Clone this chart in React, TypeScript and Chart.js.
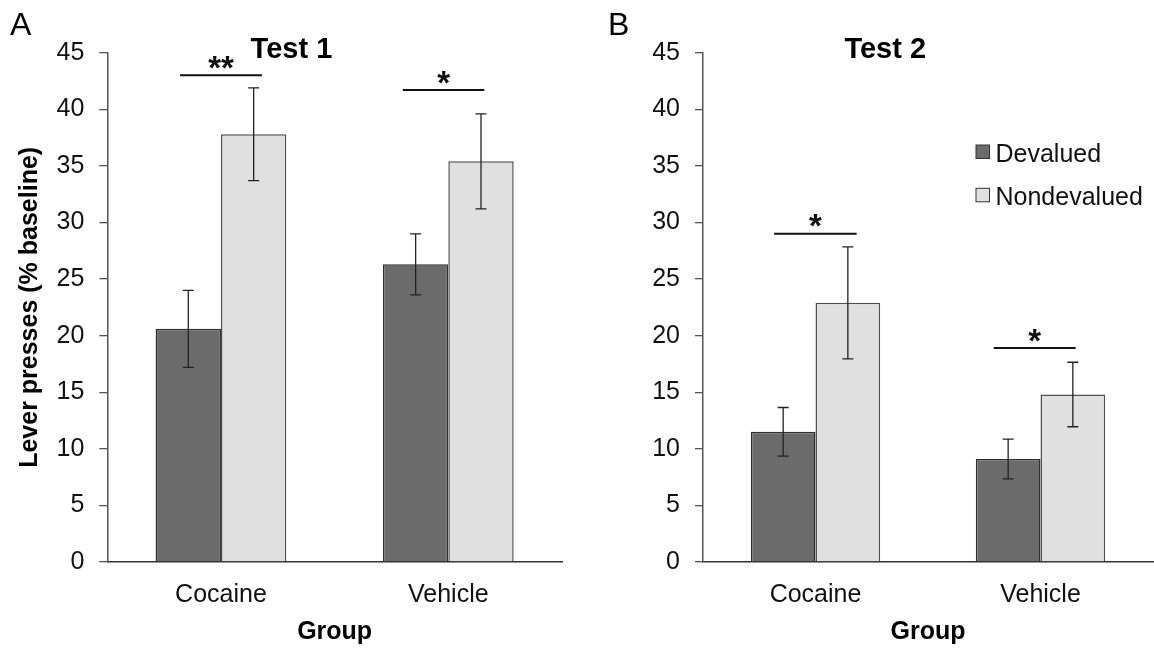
import React, { useEffect, useRef } from 'react';
import { Chart, registerables } from 'chart.js';

Chart.register(...registerables);

const FONT = '"Liberation Sans", Arial, Helvetica, sans-serif';

// ---- data ----
const categories = ['Cocaine', 'Vehicle'];
const seriesLabels = ['Devalued', 'Nondevalued'];
const seriesColors = ['#6b6b6b', '#e0e0e0'];

const yMin = 0;
const yMax = 45;
const yStep = 5;

// Test 1 (panel A)
const test1Devalued = [20.6, 26.3];
const test1Nondevalued = [37.8, 35.4];
const test1DevaluedSem = [3.4, 2.7];
const test1NondevaluedSem = [4.1, 4.2];
// significance bars: category index, start/end offset (category units), height (y units), label
const test1SigCategory = [0, 1];
const test1SigFrom = [-0.18, -0.2];
const test1SigTo = [0.18, 0.158];
const test1SigY = [43.0, 41.7];
const test1SigLabel = ['**', '*'];

// Test 2 (panel B)
const test2Devalued = [11.5, 9.1];
const test2Nondevalued = [22.9, 14.8];
const test2DevaluedSem = [2.15, 1.75];
const test2NondevaluedSem = [4.95, 2.85];
const test2SigCategory = [0, 1];
const test2SigFrom = [-0.184, -0.208];
const test2SigTo = [0.183, 0.156];
const test2SigY = [29.0, 18.9];
const test2SigLabel = ['*', '*'];

type PanelCfg = {
  panel: string;
  panelX: number;
  title: string;
  values: number[][];
  sems: number[][];
  sigCat: number[];
  sigFrom: number[];
  sigTo: number[];
  sigY: number[];
  sigLabel: string[];
  showYTitle: boolean;
  showLegend: boolean;
  yWidth: number;
  padRight: number;
};

function makeOverlay(cfg: PanelCfg) {
  return {
    id: 'overlay' + cfg.panel,
    afterDraw(chart: any) {
      const ctx: CanvasRenderingContext2D = chart.ctx;
      const xs = chart.scales.x;
      const ys = chart.scales.y;
      ctx.save();

      // error bars
      cfg.sems.forEach((sems, di) => {
        const meta = chart.getDatasetMeta(di);
        meta.data.forEach((bar: any, i: number) => {
          const v = cfg.values[di][i];
          const e = sems[i];
          const cx = bar.x;
          const yt = ys.getPixelForValue(v + e);
          const yb = ys.getPixelForValue(v - e);
          ctx.strokeStyle = '#222';
          ctx.lineWidth = 1.3;
          ctx.beginPath();
          ctx.moveTo(cx, yt);
          ctx.lineTo(cx, yb);
          ctx.moveTo(cx - 5.5, yt);
          ctx.lineTo(cx + 5.5, yt);
          ctx.moveTo(cx - 5.5, yb);
          ctx.lineTo(cx + 5.5, yb);
          ctx.stroke();
        });
      });

      // significance lines
      cfg.sigCat.forEach((c, k) => {
        const x1 = xs.getPixelForValue(c + cfg.sigFrom[k]);
        const x2 = xs.getPixelForValue(c + cfg.sigTo[k]);
        const yy = ys.getPixelForValue(cfg.sigY[k]);
        ctx.strokeStyle = '#111';
        ctx.lineWidth = 2;
        ctx.beginPath();
        ctx.moveTo(x1, yy);
        ctx.lineTo(x2, yy);
        ctx.stroke();
        ctx.fillStyle = '#111';
        ctx.font = 'bold 33px ' + FONT;
        ctx.textAlign = 'center';
        ctx.textBaseline = 'alphabetic';
        ctx.fillText(cfg.sigLabel[k], (x1 + x2) / 2, yy + 3.5);
      });

      // panel title
      ctx.fillStyle = '#000';
      ctx.font = 'bold 29px ' + FONT;
      ctx.textAlign = 'center';
      ctx.textBaseline = 'middle';
      ctx.fillText(cfg.title, xs.getPixelForValue(0.31), 50);

      // panel letter
      ctx.font = '32px ' + FONT;
      ctx.textAlign = 'left';
      ctx.textBaseline = 'alphabetic';
      ctx.fillText(cfg.panel, cfg.panelX, 35);

      // legend
      if (cfg.showLegend) {
        const lx = chart.chartArea.right - 177;
        const rows = [151.7, 195];
        seriesLabels.forEach((lab, i) => {
          const cy = rows[i];
          ctx.fillStyle = seriesColors[i];
          ctx.fillRect(lx, cy - 6.7, 13.5, 13.5);
          ctx.strokeStyle = '#333';
          ctx.lineWidth = 1;
          ctx.strokeRect(lx, cy - 6.7, 13.5, 13.5);
          ctx.fillStyle = '#111';
          ctx.font = '25px ' + FONT;
          ctx.textBaseline = 'middle';
          ctx.textAlign = 'left';
          ctx.fillText(lab, lx + 19.5, cy + 3);
        });
      }
      ctx.restore();
    },
  };
}

function Panel({ cfg, left }: { cfg: PanelCfg; left: number }) {
  const ref = useRef<HTMLCanvasElement | null>(null);
  useEffect(() => {
    if (!ref.current) return;
    const chart = new Chart(ref.current, {
      type: 'bar',
      data: {
        labels: categories,
        datasets: seriesLabels.map((lab, i) => ({
          label: lab,
          data: cfg.values[i],
          backgroundColor: seriesColors[i],
          borderColor: i === 0 ? '#2e2e2e' : '#505050',
          borderWidth: 1.5,
          borderSkipped: 'start' as const,
          categoryPercentage: 0.575,
          barPercentage: 1.0,
        })),
      },
      options: {
        responsive: false,
        animation: false,
        devicePixelRatio: 1,
        layout: { padding: { left: 0, right: cfg.padRight, top: 52.7, bottom: 0 } },
        plugins: {
          legend: { display: false },
          title: { display: false },
          tooltip: { enabled: false },
        },
        scales: {
          x: {
            z: 1,
            grid: { display: false, drawTicks: false },
            border: { display: true, color: '#333', width: 1.5 },
            ticks: {
              color: '#111',
              font: { family: FONT, size: 25 },
              padding: 18,
              maxRotation: 0,
            },
            title: {
              display: true,
              text: 'Group',
              color: '#000',
              font: { family: FONT, size: 25, weight: 'bold' },
              padding: { top: 0, bottom: 1 },
            },
            afterFit: (s: any) => {
              s.height = 86;
            },
          },
          y: {
            min: yMin,
            max: yMax,
            grid: {
              display: true,
              drawOnChartArea: false,
              drawTicks: true,
              tickLength: 8,
              color: '#555',
              lineWidth: 1.3,
            },
            border: { display: true, color: '#555', width: 1.5 },
            ticks: {
              stepSize: yStep,
              autoSkip: false,
              color: '#111',
              font: { family: FONT, size: 25 },
              padding: 15,
            },
            title: {
              display: cfg.showYTitle,
              text: 'Lever presses (% baseline)',
              color: '#000',
              font: { family: FONT, size: 25, weight: 'bold' },
              padding: { top: 15, bottom: 0 },
            },
            afterFit: (s: any) => {
              s.width = cfg.yWidth;
            },
          },
        },
      },
      plugins: [makeOverlay(cfg)],
    } as any);
    return () => chart.destroy();
  }, [cfg]);
  return (
    <canvas
      ref={ref}
      width={577}
      height={648}
      style={{ position: 'absolute', left, top: 0, width: 577, height: 648, display: 'block' }}
    />
  );
}

const cfgA: PanelCfg = {
  panel: 'A',
  panelX: 10,
  title: 'Test 1',
  values: [test1Devalued, test1Nondevalued],
  sems: [test1DevaluedSem, test1NondevaluedSem],
  sigCat: test1SigCategory,
  sigFrom: test1SigFrom,
  sigTo: test1SigTo,
  sigY: test1SigY,
  sigLabel: test1SigLabel,
  showYTitle: true,
  showLegend: false,
  yWidth: 107.3,
  padRight: 15,
};

const cfgB: PanelCfg = {
  panel: 'B',
  panelX: 31,
  title: 'Test 2',
  values: [test2Devalued, test2Nondevalued],
  sems: [test2DevaluedSem, test2NondevaluedSem],
  sigCat: test2SigCategory,
  sigFrom: test2SigFrom,
  sigTo: test2SigTo,
  sigY: test2SigY,
  sigLabel: test2SigLabel,
  showYTitle: false,
  showLegend: true,
  yWidth: 126,
  padRight: 1,
};

export default function App() {
  return (
    <div
      style={{
        position: 'fixed',
        left: 0,
        top: 0,
        width: 1154,
        height: 648,
        background: '#fff',
        overflow: 'hidden',
      }}
    >
      <Panel cfg={cfgA} left={0} />
      <Panel cfg={cfgB} left={577} />
    </div>
  );
}
